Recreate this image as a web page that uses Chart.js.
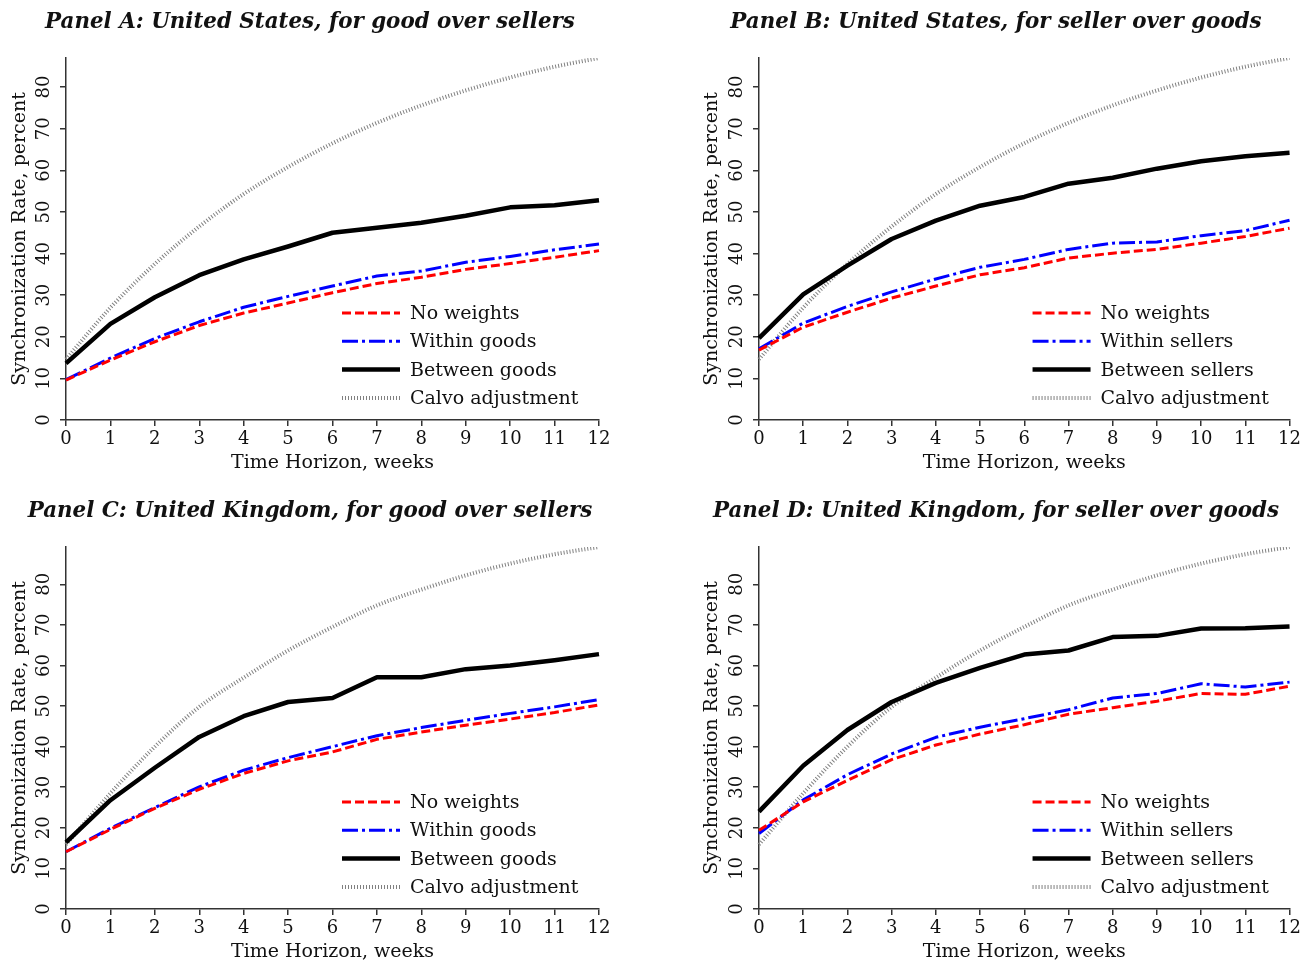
<!DOCTYPE html>
<html>
<head>
<meta charset="utf-8">
<script src="https://cdn.jsdelivr.net/npm/chart.js@4.4.1/dist/chart.umd.min.js"></script>
<style>
body { margin: 0; background: #fff; width: 1304px; height: 961px; position: relative; overflow: hidden; }
canvas { position: absolute; }
</style>
</head>
<body>
<canvas id="panelA" width="652" height="489" style="left:0;top:0"></canvas>
<canvas id="panelB" width="652" height="489" style="left:652px;top:0"></canvas>
<canvas id="panelC" width="652" height="475" style="left:0;top:489px"></canvas>
<canvas id="panelD" width="652" height="475" style="left:652px;top:489px"></canvas>
<script>
// weeks on the x axis
var weeks = ['0', '1', '2', '3', '4', '5', '6', '7', '8', '9', '10', '11', '12'];
var yTickValues = [0, 10, 20, 30, 40, 50, 60, 70, 80];

// Panel A: United States, for good over sellers
var usGoodsNoWeights = [9.6, 14.4, 18.8, 22.7, 25.7, 28.1, 30.6, 32.8, 34.3, 36.2, 37.6, 39.1, 40.7];
var usGoodsWithin = [9.7, 14.9, 19.6, 23.6, 27.1, 29.7, 32.2, 34.6, 35.8, 37.9, 39.3, 40.9, 42.3];
var usGoodsBetween = [13.6, 23.1, 29.5, 34.8, 38.6, 41.7, 45.0, 46.2, 47.4, 49.1, 51.1, 51.6, 52.8];

// Panel B: United States, for seller over goods
var usSellersNoWeights = [16.8, 22.3, 25.9, 29.3, 32.2, 34.9, 36.6, 38.9, 40.1, 41.0, 42.5, 44.1, 46.1];
var usSellersWithin = [17.1, 23.3, 27.3, 30.8, 33.9, 36.7, 38.6, 41.0, 42.5, 42.8, 44.3, 45.5, 48.0];
var usSellersBetween = [19.7, 30.2, 37.1, 43.5, 47.9, 51.5, 53.6, 56.8, 58.2, 60.4, 62.2, 63.4, 64.2];

var usCalvo = [14.6, 27.0, 37.5, 46.5, 54.3, 60.8, 66.5, 71.4, 75.6, 79.2, 82.3, 84.9, 87.0];

// Panel C: United Kingdom, for good over sellers
var ukGoodsNoWeights = [14.1, 19.6, 24.8, 29.5, 33.4, 36.5, 38.7, 41.8, 43.6, 45.3, 46.8, 48.4, 50.3];
var ukGoodsWithin = [14.1, 19.9, 25.0, 30.1, 34.2, 37.3, 40.0, 42.7, 44.7, 46.5, 48.2, 49.8, 51.6];
var ukGoodsBetween = [16.4, 26.8, 34.8, 42.4, 47.5, 51.0, 52.0, 57.1, 57.1, 59.1, 60.0, 61.3, 62.8];

// Panel D: United Kingdom, for seller over goods
var ukSellersNoWeights = [19.4, 26.4, 31.7, 36.8, 40.4, 43.1, 45.4, 48.0, 49.6, 51.2, 53.1, 52.9, 54.9];
var ukSellersWithin = [18.6, 26.9, 33.1, 38.2, 42.3, 44.8, 46.9, 49.1, 52.0, 53.1, 55.5, 54.7, 55.9];
var ukSellersBetween = [24.0, 35.3, 44.1, 51.0, 55.7, 59.4, 62.7, 63.7, 67.0, 67.3, 69.1, 69.2, 69.6];

var ukCalvo = [15.9, 28.5, 40.0, 49.8, 57.0, 63.7, 69.5, 74.8, 78.7, 82.2, 85.1, 87.4, 89.2];

var fontFamily = '"DejaVu Serif", "Liberation Serif", serif';
var inkColor = '#111';
Chart.defaults.font.family = fontFamily;
Chart.defaults.color = inkColor;

// legend drawn inside the plot, lower right
var insideLegend = {
	id: 'insideLegend',
	afterDatasetsDraw: function(chart) {
		var ctx = chart.ctx;
		var area = chart.chartArea;
		var x0 = area.right - 257;
		var y0 = area.bottom - 107;
		ctx.save();
		ctx.font = '19px ' + fontFamily;
		ctx.textBaseline = 'middle';
		chart.data.datasets.forEach(function(ds, i) {
			var y = y0 + i * 28.3;
			ctx.beginPath();
			ctx.strokeStyle = ds.borderColor;
			ctx.lineWidth = ds.borderWidth;
			ctx.setLineDash(ds.borderDash || []);
			ctx.moveTo(x0, y);
			ctx.lineTo(x0 + 58, y);
			ctx.stroke();
			ctx.setLineDash([]);
			ctx.fillStyle = inkColor;
			ctx.fillText(ds.label, x0 + 68, y + 1);
		});
		ctx.restore();
	}
};

function makeDatasets(noWeights, within, between, calvo, unit) {
	return [{
		label: 'No weights',
		data: noWeights,
		borderColor: '#ff0000',
		borderWidth: 3,
		borderDash: [9, 4]
	}, {
		label: 'Within ' + unit,
		data: within,
		borderColor: '#0000ff',
		borderWidth: 3,
		borderDash: [16, 4, 3, 4]
	}, {
		label: 'Between ' + unit,
		data: between,
		borderColor: '#000000',
		borderWidth: 4.5
	}, {
		label: 'Calvo adjustment',
		data: calvo,
		borderColor: '#808080',
		borderWidth: 4,
		borderDash: [1, 2],
		cubicInterpolationMode: 'monotone'
	}];
}

function drawPanel(id, title, datasets, yMax, box) {
	var config = {
		type: 'line',
		data: {
			labels: weeks,
			datasets: datasets
		},
		plugins: [insideLegend],
		options: {
			responsive: false,
			animation: false,
			elements: {
				point: { radius: 0 },
				line: { tension: 0, borderCapStyle: 'butt', borderJoinStyle: 'round' }
			},
			layout: {
				padding: { left: box.padLeft, right: box.padRight, top: 0, bottom: box.padBottom }
			},
			plugins: {
				legend: { display: false },
				tooltip: { enabled: false },
				title: {
					display: true,
					text: title,
					color: inkColor,
					font: { size: 21.4, weight: 'bold', style: 'italic' },
					padding: { top: 10, bottom: 22.3 }
				}
			},
			scales: {
				x: {
					offset: false,
					grid: { drawOnChartArea: false, tickLength: 6, color: '#333', lineWidth: 1.5, offset: false },
					border: { color: '#333', width: 1.5 },
					ticks: { font: { size: 18 }, color: inkColor, padding: 3, maxRotation: 0, autoSkip: false },
					title: {
						display: true,
						text: 'Time Horizon, weeks',
						color: inkColor,
						font: { size: 19 },
						padding: { top: 0, bottom: 0 }
					},
					afterFit: function(scale) { scale.height = 54; }
				},
				y: {
					min: 0,
					max: yMax,
					grid: { drawOnChartArea: false, tickLength: 6, color: '#333', lineWidth: 1.5 },
					border: { color: '#333', width: 1.5 },
					ticks: {
						stepSize: 10,
						includeBounds: false,
						minRotation: 90,
						maxRotation: 90,
						crossAlign: 'center',
						padding: 4,
						font: { size: 18 },
						color: inkColor
					},
					afterBuildTicks: function(scale) {
						scale.ticks = yTickValues.map(function(v) { return { value: v }; });
					},
					title: {
						display: true,
						text: 'Synchronization Rate, percent',
						color: inkColor,
						font: { size: 19 },
						padding: { top: box.titlePad, bottom: 0 }
					},
					afterFit: function(scale) { scale.width = box.yWidth; }
				}
			}
		}
	};
	return new Chart(document.getElementById(id).getContext('2d'), config);
}

var leftBox = { padLeft: 21, padRight: 53, yWidth: 45, titlePad: -12.4 };
var rightBox = { padLeft: 49, padRight: 13, yWidth: 58, titlePad: -0.4 };

drawPanel('panelA', 'Panel A: United States, for good over sellers',
	makeDatasets(usGoodsNoWeights, usGoodsWithin, usGoodsBetween, usCalvo, 'goods'), 87,
	Object.assign({ padBottom: 15 }, leftBox));
drawPanel('panelB', 'Panel B: United States, for seller over goods',
	makeDatasets(usSellersNoWeights, usSellersWithin, usSellersBetween, usCalvo, 'sellers'), 87,
	Object.assign({ padBottom: 15 }, rightBox));
drawPanel('panelC', 'Panel C: United Kingdom, for good over sellers',
	makeDatasets(ukGoodsNoWeights, ukGoodsWithin, ukGoodsBetween, ukCalvo, 'goods'), 89.2,
	Object.assign({ padBottom: 1 }, leftBox));
drawPanel('panelD', 'Panel D: United Kingdom, for seller over goods',
	makeDatasets(ukSellersNoWeights, ukSellersWithin, ukSellersBetween, ukCalvo, 'sellers'), 89.2,
	Object.assign({ padBottom: 1 }, rightBox));
</script>
</body>
</html>
